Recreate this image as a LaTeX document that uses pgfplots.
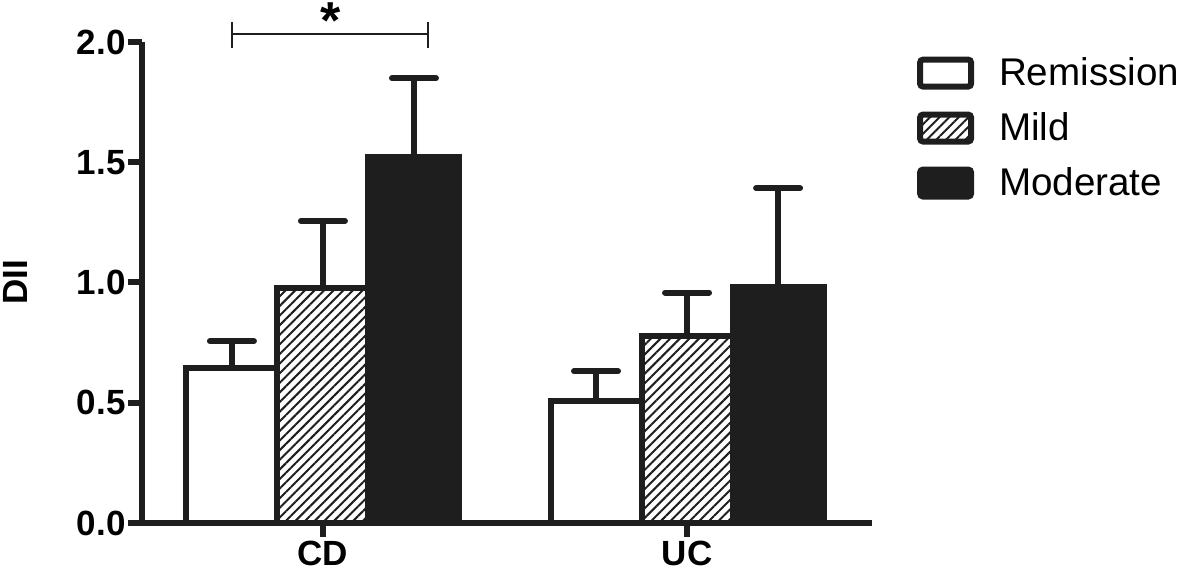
\documentclass[border=0pt]{standalone}
\usepackage{pgfplots}
\pgfplotsset{compat=1.18}
\usepackage{fontspec}
\setmainfont{Liberation Sans}
\usetikzlibrary{patterns.meta}
\definecolor{ink}{RGB}{30,30,30}
\begin{document}
\begin{tikzpicture}
\useasboundingbox (0,0) rectangle (590.5pt,288pt);
\begin{axis}[
  at={(71pt,26.5pt)}, anchor=south west,
  scale only axis, width=365pt, height=240.5pt,
  xmin=-0.497, xmax=1.508, ymin=0, ymax=2,
  axis x line*=bottom, axis y line*=left,
  axis line style={line width=3pt, ink},
  ytick={0,0.5,1,1.5,2},
  yticklabel style={font=\fontsize{17.5}{17.5}\selectfont\bfseries, inner sep=1pt,
    /pgf/number format/.cd, fixed, fixed zerofill, precision=1, assume math mode=true},
  xtick={0,1}, xticklabels={CD,UC},
  xticklabel style={font=\fontsize{17.5}{17.5}\selectfont\bfseries, inner sep=2pt, text depth=0pt},
  tick style={line width=3pt, ink}, major tick length=7pt, tick align=outside,
  ylabel={DII},
  ylabel style={font=\fontsize{17.5}{17.5}\selectfont\bfseries, at={(axis description cs:-0.174,0.5)}, anchor=center},
  clip=false,
  legend style={at={(axis description cs:1.053,0.985)}, anchor=north west, draw=none, fill=none,
    font=\fontsize{19.3}{19.3}\selectfont, row sep=8pt,
    nodes={inner sep=2pt},
    /tikz/every odd column/.style={column sep=10.5pt}},
  legend cell align=left,
  error bars/y dir=plus, error bars/y explicit,
  error bars/error bar style={line width=3pt, ink},
  error bars/error mark options={line width=3pt, ink, mark size=11pt, line cap=round, rotate=90},
  leg/.style={legend image code/.code={
      \draw[##1, line width=3pt, rounded corners=1.5pt] (0pt,-6.75pt) rectangle (25.5pt,6.75pt);}},
]
% x positions: group centre (CD = 0, UC = 1) plus bar offset
\addplot[ybar, bar width=0.25, bar shift=0pt, fill=white, draw=ink, line width=3pt, leg]
  coordinates {(-0.25,0.643) +- (0,0.113) (0.75,0.507) +- (0,0.124)};
\addplot[ybar, bar width=0.25, bar shift=0pt, pattern={Lines[angle=45,distance=3.4pt,line width=1pt]}, pattern color=ink, draw=ink, line width=3pt, leg]
  coordinates {(0,0.976) +- (0,0.280) (1,0.779) +- (0,0.179)};
\addplot[ybar, bar width=0.25, bar shift=0pt, fill=ink, draw=ink, line width=3pt, leg]
  coordinates {(0.25,1.520) +- (0,0.329) (1.25,0.983) +- (0,0.409)};
\legend{Remission, Mild, Moderate}
\draw[line width=1.3pt, ink] (axis cs:-0.25,1.975) -- (axis cs:-0.25,2.083);
\draw[line width=1.3pt, ink] (axis cs:0.288,1.975) -- (axis cs:0.288,2.083);
\draw[line width=1.3pt, ink] (axis cs:-0.25,2.033) -- (axis cs:0.288,2.033);
\node[font=\fontsize{26}{26}\selectfont\bfseries, anchor=base, inner sep=0pt] at (axis cs:0.02,2.015) {*};
\end{axis}
\end{tikzpicture}
\end{document}
